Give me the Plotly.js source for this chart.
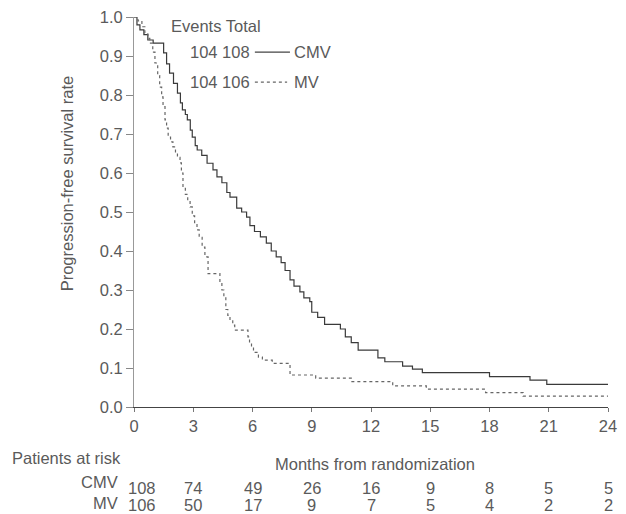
<!DOCTYPE html>
<html>
<head>
<meta charset="utf-8">
<script src="https://cdn.plot.ly/plotly-3.0.1.min.js"></script>
<style>html,body{margin:0;padding:0;background:#fff;}#chart{width:626px;height:514px;}</style>
</head>
<body>
<div id="chart"></div>
<script>
// CMV Kaplan-Meier steps (months, survival)
const cmvTime = [0, 0.15, 0.3, 0.5, 0.7, 0.97, 1.5, 1.65, 1.8, 2.0, 2.2, 2.35, 2.45, 2.6, 2.7, 2.85, 2.95, 3.1, 3.2, 3.43, 3.7, 4.0, 4.2, 4.45, 4.7, 4.86, 5.2, 5.45, 5.7, 5.87, 6.1, 6.4, 6.7, 6.95, 7.2, 7.45, 7.65, 7.9, 8.1, 8.4, 8.6, 8.9, 9.0, 9.3, 9.65, 10.45, 10.7, 11.0, 11.35, 12.35, 12.7, 13.6, 14.1, 14.6, 18.0, 20.05, 20.9, 24];
const cmvSurv = [1.0, 0.98, 0.967, 0.955, 0.941, 0.933, 0.908, 0.88, 0.856, 0.83, 0.805, 0.78, 0.762, 0.75, 0.736, 0.71, 0.692, 0.67, 0.659, 0.645, 0.625, 0.608, 0.59, 0.575, 0.55, 0.538, 0.51, 0.5, 0.487, 0.465, 0.45, 0.436, 0.42, 0.4, 0.385, 0.37, 0.35, 0.326, 0.31, 0.295, 0.28, 0.27, 0.243, 0.23, 0.212, 0.2, 0.18, 0.165, 0.146, 0.126, 0.116, 0.105, 0.097, 0.088, 0.078, 0.069, 0.058, 0.058];
// MV Kaplan-Meier steps
const mvTime = [0, 0.2, 0.4, 0.55, 0.7, 0.8, 0.95, 1.06, 1.2, 1.3, 1.4, 1.47, 1.57, 1.65, 1.73, 1.85, 1.97, 2.1, 2.2, 2.33, 2.4, 2.48, 2.6, 2.72, 2.84, 2.95, 3.07, 3.19, 3.3, 3.45, 3.59, 3.75, 4.35, 4.45, 4.55, 4.65, 4.75, 4.86, 5.0, 5.1, 5.77, 5.85, 5.95, 6.05, 6.3, 6.5, 7.0, 7.9, 9.2, 11.0, 13.1, 14.8, 17.8, 19.7, 24];
const mvSurv = [1.0, 0.99, 0.975, 0.959, 0.945, 0.933, 0.91, 0.882, 0.85, 0.82, 0.795, 0.77, 0.736, 0.715, 0.692, 0.68, 0.667, 0.65, 0.64, 0.626, 0.6, 0.564, 0.545, 0.53, 0.513, 0.49, 0.47, 0.454, 0.435, 0.41, 0.385, 0.342, 0.32, 0.3, 0.28, 0.25, 0.235, 0.223, 0.21, 0.197, 0.18, 0.165, 0.151, 0.14, 0.128, 0.12, 0.112, 0.082, 0.074, 0.065, 0.054, 0.046, 0.037, 0.028, 0.028];

const riskMonths = [0, 3, 6, 9, 12, 15, 18, 21, 24];
const cmvRisk = [108, 74, 49, 26, 16, 9, 8, 5, 5];
const mvRisk = [106, 50, 17, 9, 7, 5, 4, 2, 2];
const xTicks = [0, 3, 6, 9, 12, 15, 18, 21, 24];
const yTicks = [0, 0.1, 0.2, 0.3, 0.4, 0.5, 0.6, 0.7, 0.8, 0.9, 1.0];

const FONT = 'Liberation Sans, Arial, sans-serif';
const TXT = '#5a5a5a';
const FS = 16.5;

const traces = [
  {x: cmvTime, y: cmvSurv, mode: 'lines', line: {shape: 'hv', color: '#3a3a3a', width: 1.2}, name: 'CMV', showlegend: false},
  {x: mvTime, y: mvSurv, mode: 'lines', line: {shape: 'hv', color: '#666', width: 1.2, dash: 'dot'}, name: 'MV', showlegend: false}
];

const ann = [];
function A(o){ ann.push(Object.assign({showarrow: false, font: {family: FONT, size: FS, color: TXT}}, o)); }

// y-axis title
A({xref: 'paper', yref: 'paper', x: -0.141, y: 0.574, text: 'Progression-free survival rate', textangle: -90, xanchor: 'center', yanchor: 'middle'});
// x-axis title and risk header
A({xref: 'paper', yref: 'paper', x: 0.508, y: -0.147, yanchor: 'middle', text: 'Months from randomization'});
A({xref: 'paper', yref: 'paper', x: -0.262, y: -0.13, xanchor: 'left', yanchor: 'middle', text: 'Patients at risk'});
// risk labels
A({xref: 'paper', yref: 'paper', x: -0.029, y: -0.192, xanchor: 'right', yanchor: 'middle', text: 'CMV'});
A({xref: 'paper', yref: 'paper', x: -0.029, y: -0.247, xanchor: 'right', yanchor: 'middle', text: 'MV'});
riskMonths.forEach((m, i) => {
  const sh = i === 0 ? 8 : 0;
  A({xref: 'x', yref: 'paper', x: m, xshift: sh, y: -0.207, yanchor: 'middle', text: String(cmvRisk[i])});
  A({xref: 'x', yref: 'paper', x: m, xshift: sh, y: -0.252, yanchor: 'middle', text: String(mvRisk[i])});
});
// legend
A({xref: 'paper', yref: 'paper', x: 0.074, y: 0.977, xanchor: 'left', yanchor: 'middle', text: 'Events Total'});
A({xref: 'paper', yref: 'paper', x: 0.114, y: 0.910, xanchor: 'left', yanchor: 'middle', text: '104 108'});
A({xref: 'paper', yref: 'paper', x: 0.114, y: 0.833, xanchor: 'left', yanchor: 'middle', text: '104 106'});
A({xref: 'paper', yref: 'paper', x: 0.333, y: 0.910, xanchor: 'left', yanchor: 'middle', text: 'CMV'});
A({xref: 'paper', yref: 'paper', x: 0.333, y: 0.833, xanchor: 'left', yanchor: 'middle', text: 'MV'});

const shapes = [
  {type: 'line', xref: 'paper', yref: 'paper', x0: 0.255, x1: 0.329, y0: 0.910, y1: 0.910, line: {color: '#444', width: 1.2}},
  {type: 'line', xref: 'paper', yref: 'paper', x0: 0.255, x1: 0.323, y0: 0.833, y1: 0.833, line: {color: '#666', width: 1.2, dash: 'dot'}}
];

const layout = {
  width: 626, height: 514,
  margin: {l: 134, r: 18, t: 17, b: 107, pad: 0},
  paper_bgcolor: '#fff', plot_bgcolor: '#fff',
  font: {family: FONT, size: FS, color: TXT},
  showlegend: false,
  xaxis: {range: [0, 24], tickvals: xTicks, ticktext: xTicks.map(String), ticks: 'outside', ticklen: 4, tickcolor: '#777',
          showline: true, linecolor: '#444', linewidth: 1.2, showgrid: false, zeroline: false,
          tickfont: {family: FONT, size: FS, color: TXT}, fixedrange: true},
  yaxis: {range: [0, 1.0], tickvals: yTicks, ticktext: yTicks.map(v => v.toFixed(1)), ticks: 'outside', ticklen: 7, tickcolor: '#888',
          showline: true, linecolor: '#999', linewidth: 1, showgrid: false, zeroline: false,
          tickfont: {family: FONT, size: FS, color: TXT}, fixedrange: true},
  annotations: ann,
  shapes: shapes
};

Plotly.newPlot('chart', traces, layout, {staticPlot: true, displayModeBar: false});
</script>
</body>
</html>
